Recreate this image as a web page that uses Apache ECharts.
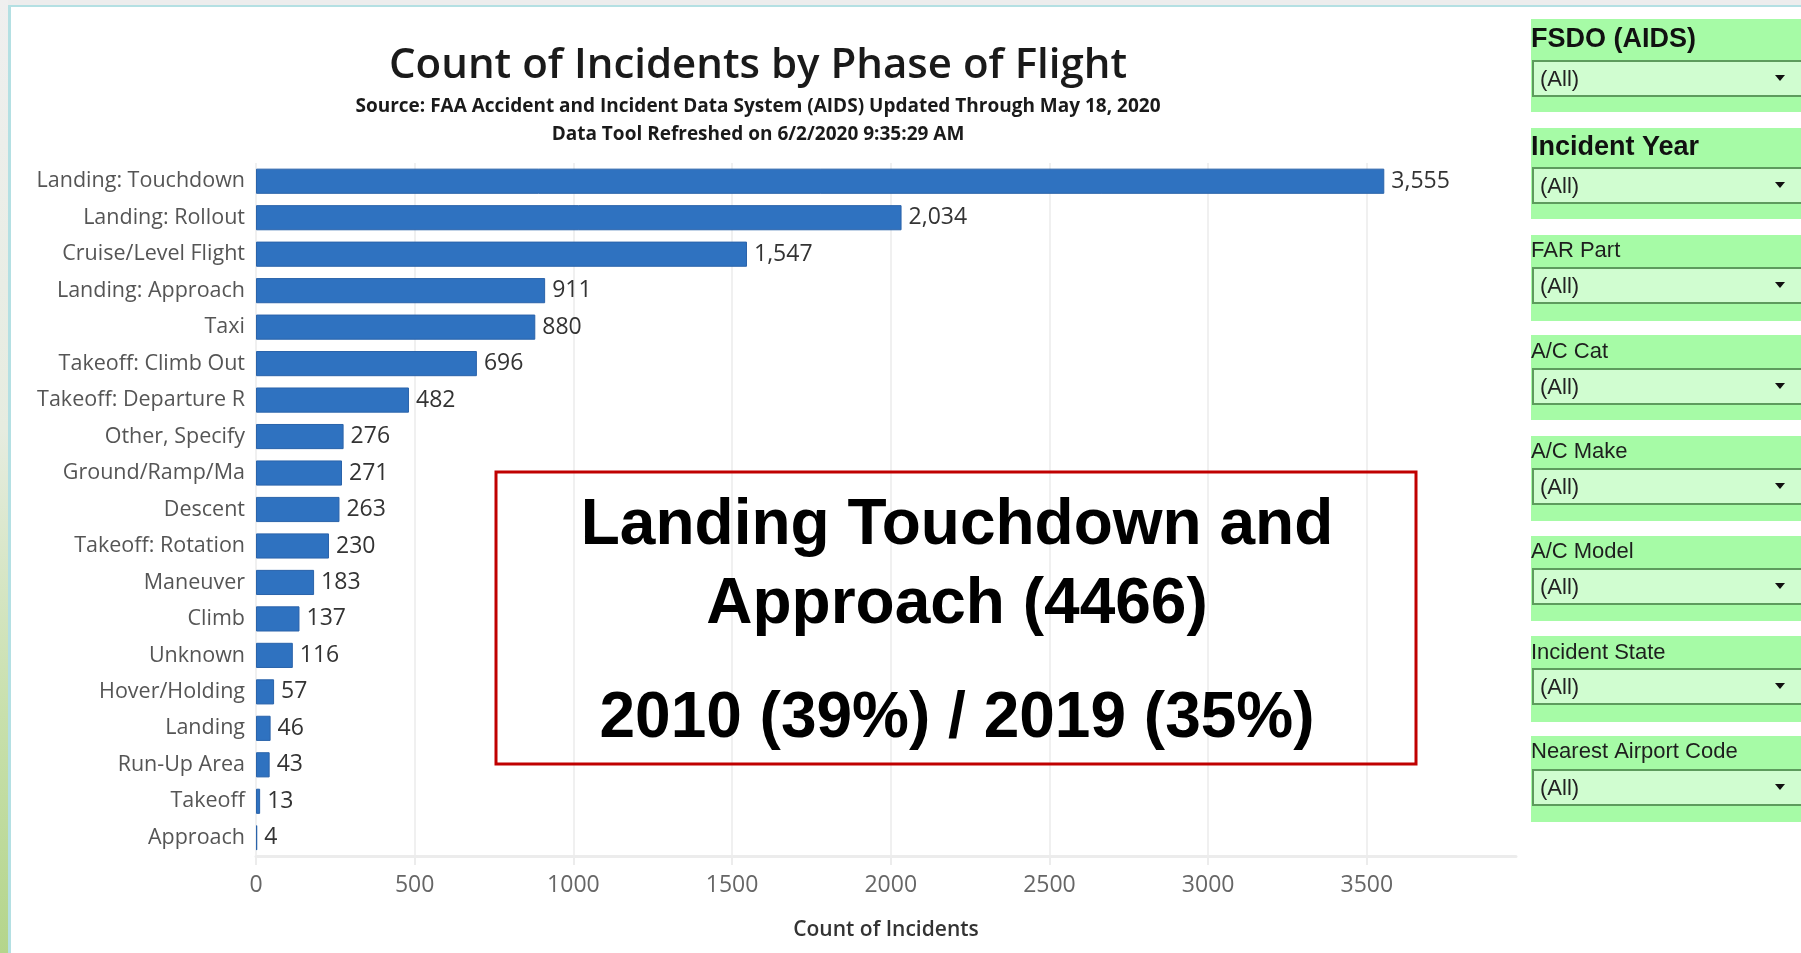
<!DOCTYPE html>
<html>
<head>
<meta charset="utf-8">
<script src="https://cdn.jsdelivr.net/npm/echarts@6/dist/echarts.min.js"></script>
<style>
html,body{margin:0;padding:0;background:#fff;}
#chart{width:1801px;height:953px;}
</style>
</head>
<body>
<div id="chart"></div>
<script>
// ---- data ----
const categories = ['Landing: Touchdown','Landing: Rollout','Cruise/Level Flight','Landing: Approach','Taxi','Takeoff: Climb Out','Takeoff: Departure R','Other, Specify','Ground/Ramp/Ma','Descent','Takeoff: Rotation','Maneuver','Climb','Unknown','Hover/Holding','Landing','Run-Up Area','Takeoff','Approach'];
const incidentCounts = [3555,2034,1547,911,880,696,482,276,271,263,230,183,137,116,57,46,43,13,4];
const titleText = 'Count of Incidents by Phase of Flight';
const subtitleLines = ['Source: FAA Accident and Incident Data System (AIDS) Updated Through May 18, 2020','Data Tool Refreshed on 6/2/2020 9:35:29 AM'];
const axisTitle = 'Count of Incidents';
const annotationLines = ['Landing Touchdown and','Approach (4466)','2010 (39%) / 2019 (35%)'];
const filterTitles = ['FSDO (AIDS)','Incident Year','FAR Part','A/C Cat','A/C Make','A/C Model','Incident State','Nearest Airport Code'];
const filterBold = [true,true,false,false,false,false,false,false];
const filterValue = '(All)';

// ---- layout ----
const panelTops = [19,128,235,335,436,536,636,736];
const panelHeights = [93,91,86,85,85,85,86,86];
const titleYs = [40,148,251,352,452,552,653,752];
const dropTops = [61,168,268,369,469,569,669,770];

const chart = echarts.init(document.getElementById('chart'), null, {renderer:'canvas'});

const graphics = [];
// frame decorations
graphics.push({type:'rect', z:-10, shape:{x:0,y:0,width:1801,height:6}, style:{fill:'#ededed'}});
graphics.push({type:'rect', z:-10, shape:{x:0,y:0,width:8,height:953}, style:{fill:new echarts.graphic.LinearGradient(0,0,0,1,[{offset:0,color:'#efefef'},{offset:0.45,color:'#e6ece0'},{offset:0.75,color:'#c8e0ac'},{offset:1,color:'#b4d58c'}])}});
graphics.push({type:'rect', z:-9, shape:{x:8,y:6,width:3,height:947}, style:{fill:'#b4e0e3'}});
graphics.push({type:'rect', z:-9, shape:{x:8,y:5,width:1793,height:2}, style:{fill:'#b4e0e3'}});

// titles
graphics.push({type:'text', x:758, y:66, style:{text:titleText, align:'center', verticalAlign:'middle', font:'600 42px "Open Sans"', fill:'#1a1a1a'}});
graphics.push({type:'text', x:758, y:107, style:{text:subtitleLines[0], align:'center', verticalAlign:'middle', font:'bold 19px "Open Sans"', fill:'#1a1a1a'}});
graphics.push({type:'text', x:758, y:135, style:{text:subtitleLines[1], align:'center', verticalAlign:'middle', font:'bold 19px "Open Sans"', fill:'#1a1a1a'}});

// annotation box
graphics.push({type:'rect', z:5, shape:{x:496,y:472,width:920,height:292}, style:{fill:'none', stroke:'#c00000', lineWidth:3}});
const annY = [526,605,719];
annotationLines.forEach((t,i)=>{
  graphics.push({type:'text', z:6, x:957, y:annY[i], style:{text:t, align:'center', verticalAlign:'middle', font:'bold 64px "Liberation Sans", Arial', fill:'#000'}});
});

// filter panel
filterTitles.forEach((t,i)=>{
  graphics.push({type:'rect', z:1, shape:{x:1531,y:panelTops[i],width:270,height:panelHeights[i]}, style:{fill:'#a6fba6'}});
  graphics.push({type:'text', z:2, x:1531, y:titleYs[i], style:{text:t, align:'left', verticalAlign:'middle', font:(filterBold[i]?'bold 27px':'22px')+' "Liberation Sans", Arial', fill:filterBold[i]?'#111':'#1e1e1e'}});
  graphics.push({type:'rect', z:2, shape:{x:1533,y:dropTops[i],width:272,height:35}, style:{fill:'#d0fdd0', stroke:'#5d9b5d', lineWidth:2}});
  graphics.push({type:'text', z:3, x:1540, y:dropTops[i]+19, style:{text:filterValue, align:'left', verticalAlign:'middle', font:'22px "Liberation Sans", Arial', fill:'#222'}});
  const cy = dropTops[i]+17;
  graphics.push({type:'polygon', z:3, shape:{points:[[1775,cy-3],[1785,cy-3],[1780,cy+3]]}, style:{fill:'#111'}});
});

const option = {
  animation:false,
  backgroundColor:'#ffffff',
  grid:{left:256, right:285, top:163, bottom:97, containLabel:false},
  xAxis:{
    type:'value', min:0, max:3970, interval:500,
    name:axisTitle, nameLocation:'middle', nameGap:64,
    nameTextStyle:{fontFamily:'Open Sans', fontWeight:600, fontSize:21, color:'#333'},
    axisLine:{show:true, lineStyle:{color:'#ececec', width:3}},
    axisTick:{show:true, length:9, lineStyle:{color:'#ececec', width:2}},
    axisLabel:{margin:18, fontFamily:'Open Sans', fontSize:23, color:'#666', showMaxLabel:false,
      formatter:(v)=> (v % 500 === 0 ? String(v) : '')},
    splitLine:{show:true, showMaxLine:false, lineStyle:{color:'#f0f0f0', width:2}}
  },
  yAxis:{
    type:'category', data:categories, inverse:true,
    axisLine:{show:false}, axisTick:{show:false},
    axisLabel:{margin:11, fontFamily:'Open Sans', fontSize:21.5, color:'#555'},
    splitLine:{show:false}
  },
  series:[{
    type:'bar', data:incidentCounts, barCategoryGap:'31%',
    itemStyle:{color:'#2f72c0', borderColor:'#2a63aa', borderWidth:1},
    label:{show:true, position:'right', distance:7, fontFamily:'Open Sans', fontSize:23, color:'#333',
      formatter:(p)=>p.value.toLocaleString('en-US')}
  }],
  graphic:graphics
};
chart.setOption(option);
</script>
</body>
</html>
